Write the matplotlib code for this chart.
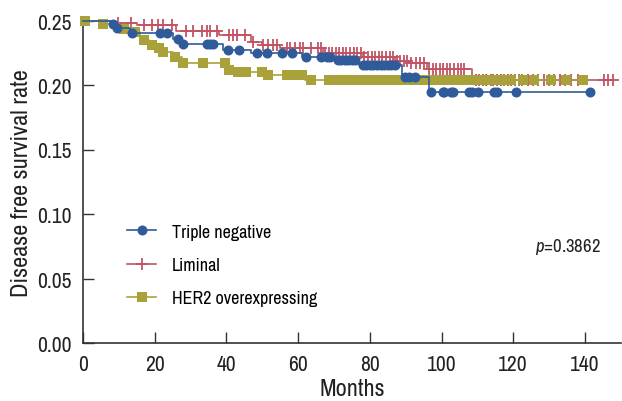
import numpy as np
import matplotlib
matplotlib.use("Agg")
from matplotlib import pyplot as plt
from matplotlib import font_manager

# narrow Helvetica-like face if there is one, else plain Liberation Sans
names = set(f.name for f in font_manager.fontManager.ttflist)
narrow = [n for n in names if 'Narrow' in n or 'Condensed' in n]
if 'Liberation Sans Narrow' in names:
    face = 'Liberation Sans Narrow'
elif narrow:
    face = sorted(narrow)[0]
else:
    face = 'Liberation Sans'
plt.rcParams['font.family'] = [face, 'DejaVu Sans']
plt.rcParams['mathtext.fontset'] = 'custom'
plt.rcParams['mathtext.rm'] = face
plt.rcParams['mathtext.it'] = face + ':italic'
is_narrow = face != 'Liberation Sans'

# step curves: time where survival drops, and the new value
tn_time = [0, 8, 9, 13, 25, 27.5, 39, 47, 61, 70, 77, 89, 96.5]
tn_surv = [0.25, 0.2475, 0.2445, 0.240, 0.236, 0.232, 0.2275, 0.225, 0.222, 0.219, 0.2155, 0.2065, 0.1943]
tn_cens = [8.5, 9.5, 13.6, 21.5, 23.4, 26.6, 28, 34.5, 35.4, 36.4, 40.4, 43.6, 48.4, 51.2, 55.4, 58.2,
           62.3, 66.5, 68, 69, 71, 72, 73, 74, 75, 76, 78, 79, 80, 81, 82, 83, 84, 85, 86, 87,
           89.7, 91, 92.5, 97.1, 100.4, 100.8, 102.7, 103.2, 107.8, 108.5, 110.1, 114.7, 115.5, 120.8, 141.5]

li_time = [0, 9, 15, 26, 38, 47, 50, 55, 67, 78, 87, 91, 96, 108.5]
li_surv = [0.25, 0.248, 0.2462, 0.2416, 0.2385, 0.2334, 0.2308, 0.2283, 0.2245, 0.2214, 0.2188, 0.2168, 0.2122, 0.204]
li_cens = [9.7, 13.4, 16.9, 19.2, 20.9, 22.2, 24.8, 28.8, 30.8, 33.1, 34.5, 35.4, 37.5, 40.6, 41.9, 42.9,
           45.2, 47.5, 50.3, 51.7, 53, 54, 56.8, 57.7, 59.1, 60.5, 61.4, 63.5, 65.6, 66.5, 67.5, 68.5,
           69.5, 70.5, 71.5, 72.5, 73.5, 74.5, 75.5, 76.5, 77.5, 78.5, 79.5, 80.5, 81.5, 82.5, 83.5,
           84.5, 85.5, 86.5, 87.5, 88.5, 89.5, 90.5, 91.6, 92.8, 94, 95.2, 96.5, 97.5, 98.5, 99.5,
           100.4, 101.5, 102.5, 103.5, 104.5, 105.5, 106.4, 109.5, 110.5, 111.5, 112.5, 113.8, 114.5,
           115.5, 116.5, 117.5, 118.5, 119.5, 120.5, 121.5, 122.5, 124, 125.5, 127, 128.5, 130, 131.5,
           133, 134.5, 136, 138, 145.3, 146.5, 147.8]

he_time = [0, 5, 10, 14, 16, 18.5, 20.5, 22, 25, 27.5, 40, 42, 51, 62]
he_surv = [0.25, 0.2469, 0.2436, 0.241, 0.2347, 0.2308, 0.2283, 0.2257, 0.2219, 0.2168, 0.2117, 0.2104, 0.2078, 0.204]
he_cens = [0.5, 5.5, 11.3, 14.5, 16.9, 19.2, 21.1, 22.4, 25.7, 28, 33.6, 39.6, 40.6, 43.3, 45.6, 49.8,
           51.7, 57, 59, 61, 63.7, 68.5, 70, 71.5, 73, 74.5, 76, 77.5, 79, 80.4, 82, 83.5, 85, 86.5,
           88, 90.7, 92.5, 94.3, 96.3, 98, 99.5, 101, 102.5, 104, 105.5, 106.5, 108, 109.5, 111,
           112.5, 114, 115.5, 116.6, 119.4, 122.6, 125.9, 130.5, 134.7, 139.4]

labels = ["Triple negative", "Liminal", "HER2 overexpressing"]
colors = ["#2f5b9b", "#c25364", "#a9a23a"]


def km_plot(ax, times, surv, cens, color, marker, ms, label, z):
    t = np.array(times + [max(cens)])
    s = np.array(surv + [surv[-1]])
    ax.step(t, s, where='post', color=color, lw=1.2, zorder=z, clip_on=False)
    idx = np.searchsorted(times, cens, side='right') - 1
    cy = np.array(surv)[idx]
    mew = 1.3 if marker == '+' else 0
    ax.plot(cens, cy, ls='none', marker=marker, ms=ms, color=color, mew=mew,
            zorder=z, clip_on=False)
    # legend proxy
    ax.plot([], [], color=color, lw=1.2, marker=marker, ms=ms, mew=mew, label=label)


fig = plt.figure(figsize=(6.22, 4.02), dpi=100)
ax = fig.add_axes([83 / 622, 1 - 344 / 402, 150 * 3.585 / 622, 322.5 / 402])

km_plot(ax, li_time, li_surv, li_cens, colors[1], '+', 8.5, labels[1], 2)
km_plot(ax, tn_time, tn_surv, tn_cens, colors[0], 'o', 7.2, labels[0], 4)
km_plot(ax, he_time, he_surv, he_cens, colors[2], 's', 7.3, labels[2], 3)

ax.set_xlim(0, 150)
ax.set_ylim(0, 0.25)
ax.set_xticks([0, 20, 40, 60, 80, 100, 120, 140])
ax.set_yticks([0, 0.05, 0.10, 0.15, 0.20, 0.25])
ax.set_yticklabels(["%.2f" % v for v in [0, 0.05, 0.10, 0.15, 0.20, 0.25]])

fs_tick = 15.5 if is_narrow else 13
fs_lab = 17.5 if is_narrow else 15
fs_leg = 13 if is_narrow else 11.5
ax.tick_params(direction='in', length=7.7, width=1, labelsize=fs_tick, color='#333333', labelcolor='#222222')
ax.tick_params(axis='x', pad=8)
ax.tick_params(axis='y', pad=8)
for side in ['top', 'right']:
    ax.spines[side].set_visible(False)
for side in ['left', 'bottom']:
    ax.spines[side].set_color('#333333')
    ax.spines[side].set_linewidth(1.2)

ax.set_xlabel("Months", fontsize=fs_lab, color='#222222', labelpad=3)
ax.set_ylabel("Disease free survival rate", fontsize=fs_lab, color='#222222', labelpad=4)

# legend order as in the reference
h, l = ax.get_legend_handles_labels()
order = [l.index(x) for x in labels]
ax.legend([h[i] for i in order], [l[i] for i in order], loc='upper left',
          bbox_to_anchor=(0.082, 0.37), frameon=False, fontsize=fs_leg,
          handlelength=1.6, labelspacing=0.95, handletextpad=0.9, borderpad=0, borderaxespad=0)

ax.text(0.84, 0.285, r"$p$=0.3862", transform=ax.transAxes, fontsize=fs_leg + 0.5, color='#222222')

fig.savefig("out.png", dpi=100)
